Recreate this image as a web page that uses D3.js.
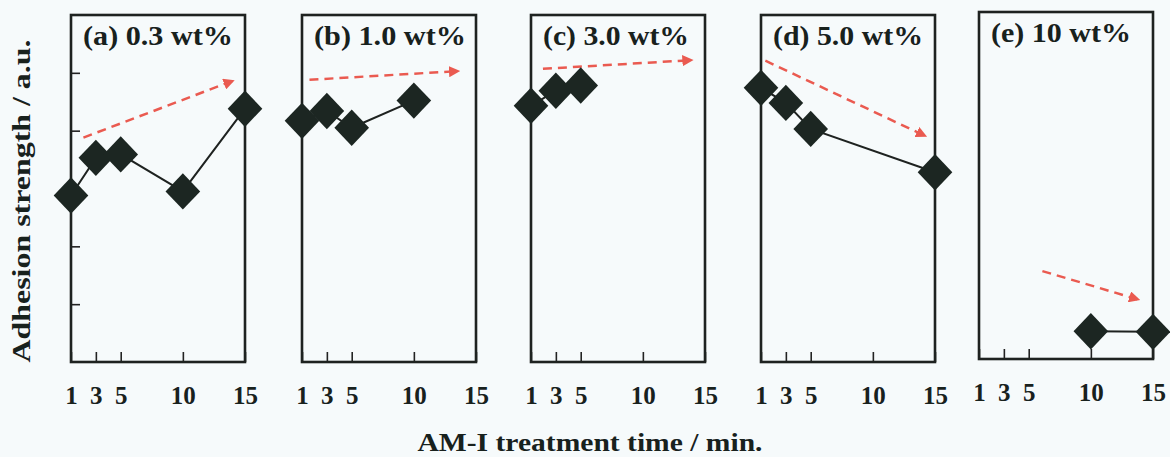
<!doctype html>
<html>
<head>
<meta charset="utf-8">
<script src="https://cdn.jsdelivr.net/npm/d3@7"></script>
<style>
  body { margin: 0; background: #f6fafb; }
  svg { display: block; font-family: "Liberation Serif", "Times New Roman", serif; font-weight: bold; }
</style>
</head>
<body>
<script>
// treatment times shown on every x axis
const timeTicks = [1, 3, 5, 10, 15];

// one entry per panel: AM-I concentration
const panelLabels = ["(a) 0.3 wt%", "(b) 1.0 wt%", "(c) 3.0 wt%", "(d) 5.0 wt%", "(e) 10 wt%"];

// measured points (time in min, adhesion strength in a.u.)
const times = [
  [1, 3, 5, 10, 15],
  [1, 3, 5, 10],
  [1, 3, 5],
  [1, 3, 5, 15],
  [10, 15]
];
const strength = [
  [2.88, 3.53, 3.59, 2.95, 4.38],
  [4.17, 4.34, 4.05, 4.52],
  [4.43, 4.69, 4.78],
  [4.74, 4.48, 4.03, 3.28],
  [0.48, 0.47]
];

// dashed red trend arrows: [start, end] as [time, strength]
const trends = [
  [[2.0, 3.88], [14.0, 4.86]],
  [[1.6, 4.88], [13.55, 5.03]],
  [[1.96, 5.07], [13.9, 5.22]],
  [[1.35, 5.21], [14.2, 3.91]],
  [[6.1, 1.52], [13.8, 1.03]]
];

const yTicks = [1, 2, 3, 4, 5];

// layout
const W = 1170, H = 457;
const panelLeft = [71, 302, 531, 761, 979];
const panelTop = [15, 15, 15, 15, 12];
const pw = 174, ph = 347;
const titleWidth = [150, 152, 146, 150, 140];

const svg = d3.select("body").append("svg").attr("width", W).attr("height", H);

const x = d3.scaleLinear().domain([1, 15]).range([0, pw]);
const y = d3.scaleLinear().domain([0, 6]).range([ph, 0]);

svg.append("defs").append("marker")
    .attr("id", "head")
    .attr("viewBox", "0 0 10 10")
    .attr("refX", 8).attr("refY", 5)
    .attr("markerWidth", 4.5).attr("markerHeight", 4.5)
    .attr("markerUnits", "strokeWidth")
    .attr("orient", "auto")
  .append("path")
    .attr("d", "M0,0L10,5L0,10Z")
    .attr("fill", "#ea5a50");

const line = d3.line().x(d => x(d[0])).y(d => y(d[1]));
const diamond = d3.symbol(d3.symbolSquare, 600);

panelLabels.forEach((label, i) => {
  const g = svg.append("g").attr("transform", `translate(${panelLeft[i]},${panelTop[i]})`);

  // x axis ticks point inward
  const xa = g.append("g")
      .attr("transform", `translate(0,${ph})`)
      .call(d3.axisBottom(x).tickValues(timeTicks).tickSize(-10).tickPadding(24).tickFormat(d3.format("d")))
      .attr("font-family", null)
      .attr("font-size", 25);
  xa.select(".domain").remove();
  xa.selectAll("line").attr("stroke", "#222").attr("stroke-width", 1.6);
  xa.selectAll("text").attr("fill", "#18211d");

  if (i === 0) {
    const ya = g.append("g")
        .call(d3.axisLeft(y).tickValues(yTicks).tickSize(-9).tickFormat(""));
    ya.select(".domain").remove();
    ya.selectAll("line").attr("stroke", "#222").attr("stroke-width", 1.6);
  }

  g.append("rect")
      .attr("width", pw).attr("height", ph)
      .attr("fill", "none").attr("stroke", "#1e2220").attr("stroke-width", 2.6);

  g.append("text")
      .attr("x", 12).attr("y", 30)
      .attr("font-size", 27).attr("fill", "#18211d")
      .attr("textLength", titleWidth[i]).attr("lengthAdjust", "spacingAndGlyphs")
      .text(label);

  g.append("path")
      .attr("d", line(trends[i]))
      .attr("fill", "none").attr("stroke", "#ea5a50")
      .attr("stroke-width", 2.5).attr("stroke-dasharray", "9,6")
      .attr("marker-end", "url(#head)");

  const pts = times[i].map((t, j) => [t, strength[i][j]]);

  g.append("path")
      .attr("d", line(pts))
      .attr("fill", "none").attr("stroke", "#1e2220").attr("stroke-width", 2);

  g.selectAll(".pt").data(pts).join("path")
      .attr("class", "pt")
      .attr("transform", d => `translate(${x(d[0])},${y(d[1])}) scale(1,1.05) rotate(45)`)
      .attr("d", diamond)
      .attr("fill", "#1c2622");
});

svg.append("text")
    .attr("x", 590).attr("y", 451)
    .attr("text-anchor", "middle")
    .attr("font-size", 26).attr("fill", "#18211d")
    .attr("textLength", 345).attr("lengthAdjust", "spacingAndGlyphs")
    .text("AM-I treatment time / min.");

svg.append("text")
    .attr("transform", "translate(30,201) rotate(-90)")
    .attr("text-anchor", "middle")
    .attr("font-size", 25).attr("fill", "#18211d")
    .attr("textLength", 323).attr("lengthAdjust", "spacingAndGlyphs")
    .text("Adhesion strength / a.u.");
</script>
</body>
</html>
